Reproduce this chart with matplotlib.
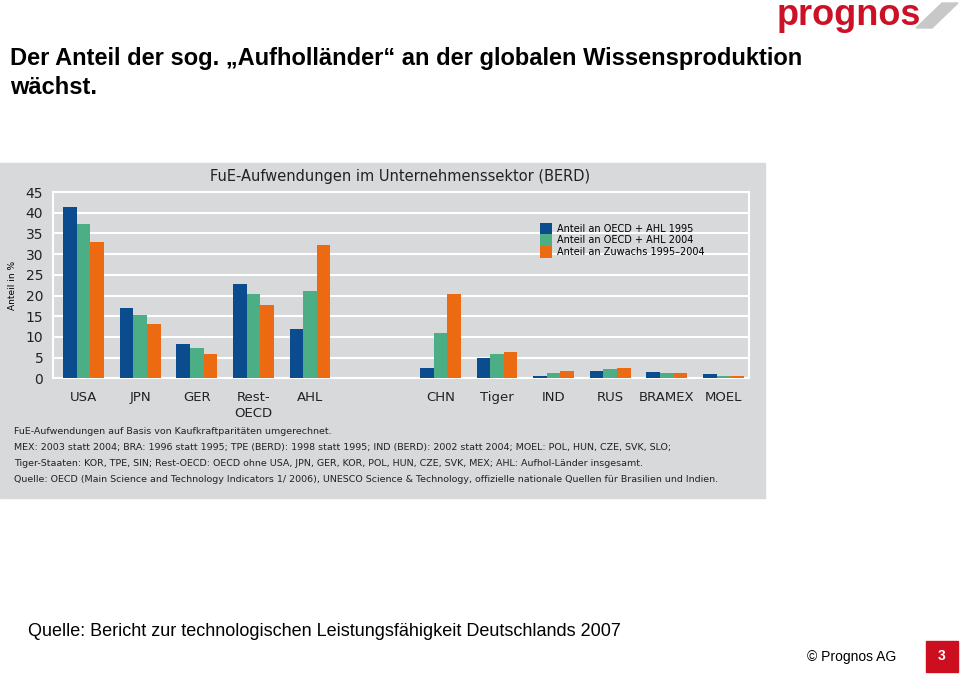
import numpy as np
import matplotlib.pyplot as plt
from matplotlib.patches import Rectangle, Polygon

# Daten (Anteile in %)
laender = ['USA', 'JPN', 'GER', 'Rest-\nOECD', 'AHL', 'CHN', 'Tiger', 'IND', 'RUS', 'BRAMEX', 'MOEL']
anteil_1995 = [41.4, 17.0, 8.3, 22.8, 11.8, 2.6, 5.0, 0.6, 1.8, 1.5, 1.0]
anteil_2004 = [37.3, 15.2, 7.3, 20.4, 21.2, 11.0, 5.8, 1.2, 2.3, 1.2, 0.6]
anteil_zuwachs = [32.9, 13.1, 5.9, 17.6, 32.3, 20.4, 6.4, 1.8, 2.6, 1.2, 0.6]
serien = ['Anteil an OECD + AHL 1995', 'Anteil an OECD + AHL 2004', 'Anteil an Zuwachs 1995–2004']
yticks = [0, 5, 10, 15, 20, 25, 30, 35, 40, 45]

farben = ['#0a4c8e', '#4bae85', '#ec6a12']
grau = '#d8d9da'
schrift = ['Liberation Sans Narrow', 'DejaVu Sans']

W, H = 960, 674
fig = plt.figure(figsize=(W / 100, H / 100), dpi=100)


def fx(x):
    return x / W


def fy(y):
    return 1 - y / H


# grauer Hintergrund der Grafik (hinter den Achsen)
fig.patches.append(Rectangle((0, fy(498)), fx(765), fy(163) - fy(498),
                             transform=fig.transFigure, color=grau, zorder=-5))

ax = fig.add_axes([fx(53), fy(378.3), fx(749) - fx(53), fy(192) - fy(378.3)])
ax.patch.set_alpha(0)

# Positionen: Lücke zwischen AHL und CHN
pos = np.concatenate([np.arange(5), np.arange(6) + 6.3])
b = 0.24
for i, (werte, name) in enumerate(zip([anteil_1995, anteil_2004, anteil_zuwachs], serien)):
    ax.bar(pos + (i - 1) * b, werte, width=b, color=farben[i], label=name, zorder=3)

ax.set_ylim(0, 45)
ax.set_xlim(-0.54, 11.75)
ax.set_yticks(yticks)
ax.set_yticklabels([str(t) for t in yticks], fontsize=10, family=schrift, color='#222222')
ax.set_xticks(pos)
ax.set_xticklabels(laender, fontsize=9.5, family=schrift, color='#222222', linespacing=1.3)
ax.tick_params(length=0, pad=9)
ax.tick_params(axis='y', pad=7)
ax.grid(axis='y', color='white', linewidth=1.5, zorder=1)
ax.set_axisbelow(True)
for s in ax.spines.values():
    s.set_color('white')
    s.set_linewidth(1.5)
ax.set_ylabel('Anteil in %', fontsize=6.5, family=schrift, labelpad=6)

ax.legend(loc='upper left', bbox_to_anchor=(0.70, 0.834), frameon=False,
          borderaxespad=0, borderpad=0,
          handlelength=1.25, handleheight=1.45, labelspacing=0.0, handletextpad=0.45,
          prop={'family': schrift, 'size': 7})

fig.text(fx(400), fy(177), 'FuE-Aufwendungen im Unternehmenssektor (BERD)',
         ha='center', va='center', fontsize=10.5, family=schrift, color='#222222')

fussnote = [
    'FuE-Aufwendungen auf Basis von Kaufkraftparitäten umgerechnet.',
    'MEX: 2003 statt 2004; BRA: 1996 statt 1995; TPE (BERD): 1998 statt 1995; IND (BERD): 2002 statt 2004; MOEL: POL, HUN, CZE, SVK, SLO;',
    'Tiger-Staaten: KOR, TPE, SIN; Rest-OECD: OECD ohne USA, JPN, GER, KOR, POL, HUN, CZE, SVK, MEX; AHL: Aufhol-Länder insgesamt.',
    'Quelle: OECD (Main Science and Technology Indicators 1/ 2006), UNESCO Science & Technology, offizielle nationale Quellen für Brasilien und Indien.',
]
for k, zeile in enumerate(fussnote):
    fig.text(fx(14), fy(432 + k * 15.7), zeile, ha='left', va='center',
             fontsize=6.8, family=schrift, color='#222222')

# Folientitel
fig.text(fx(10), fy(58), 'Der Anteil der sog. „Aufholländer“ an der globalen Wissensproduktion',
         ha='left', va='center', fontsize=17, fontweight='bold', family='Liberation Sans')
fig.text(fx(10), fy(88), 'wächst.', ha='left', va='center', fontsize=17,
         fontweight='bold', family='Liberation Sans')

fig.text(fx(28), fy(631), 'Quelle: Bericht zur technologischen Leistungsfähigkeit Deutschlands 2007',
         ha='left', va='center', fontsize=13, family='Liberation Sans')

# Logo
fig.patches.append(Polygon([(fx(916), fy(28)), (fx(932), fy(28)), (fx(958), fy(3)), (fx(942), fy(3))],
                           closed=True, transform=fig.transFigure, color='#c8c8c8', zorder=1))
fig.text(fx(777), fy(25), 'prognos', ha='left', va='baseline', fontsize=26,
         fontweight='bold', family='Liberation Sans', color='#cc1126', zorder=2)

fig.text(fx(896), fy(657), '© Prognos AG', ha='right', va='center', fontsize=10,
         family='Liberation Sans')
fig.patches.append(Rectangle((fx(926), fy(672)), fx(32), fy(641) - fy(672),
                             transform=fig.transFigure, color='#cc0e1f', zorder=1))
fig.text(fx(942), fy(656), '3', ha='center', va='center', fontsize=10, fontweight='bold',
         color='white', family='Liberation Sans')

fig.savefig('out.png', dpi=100)
